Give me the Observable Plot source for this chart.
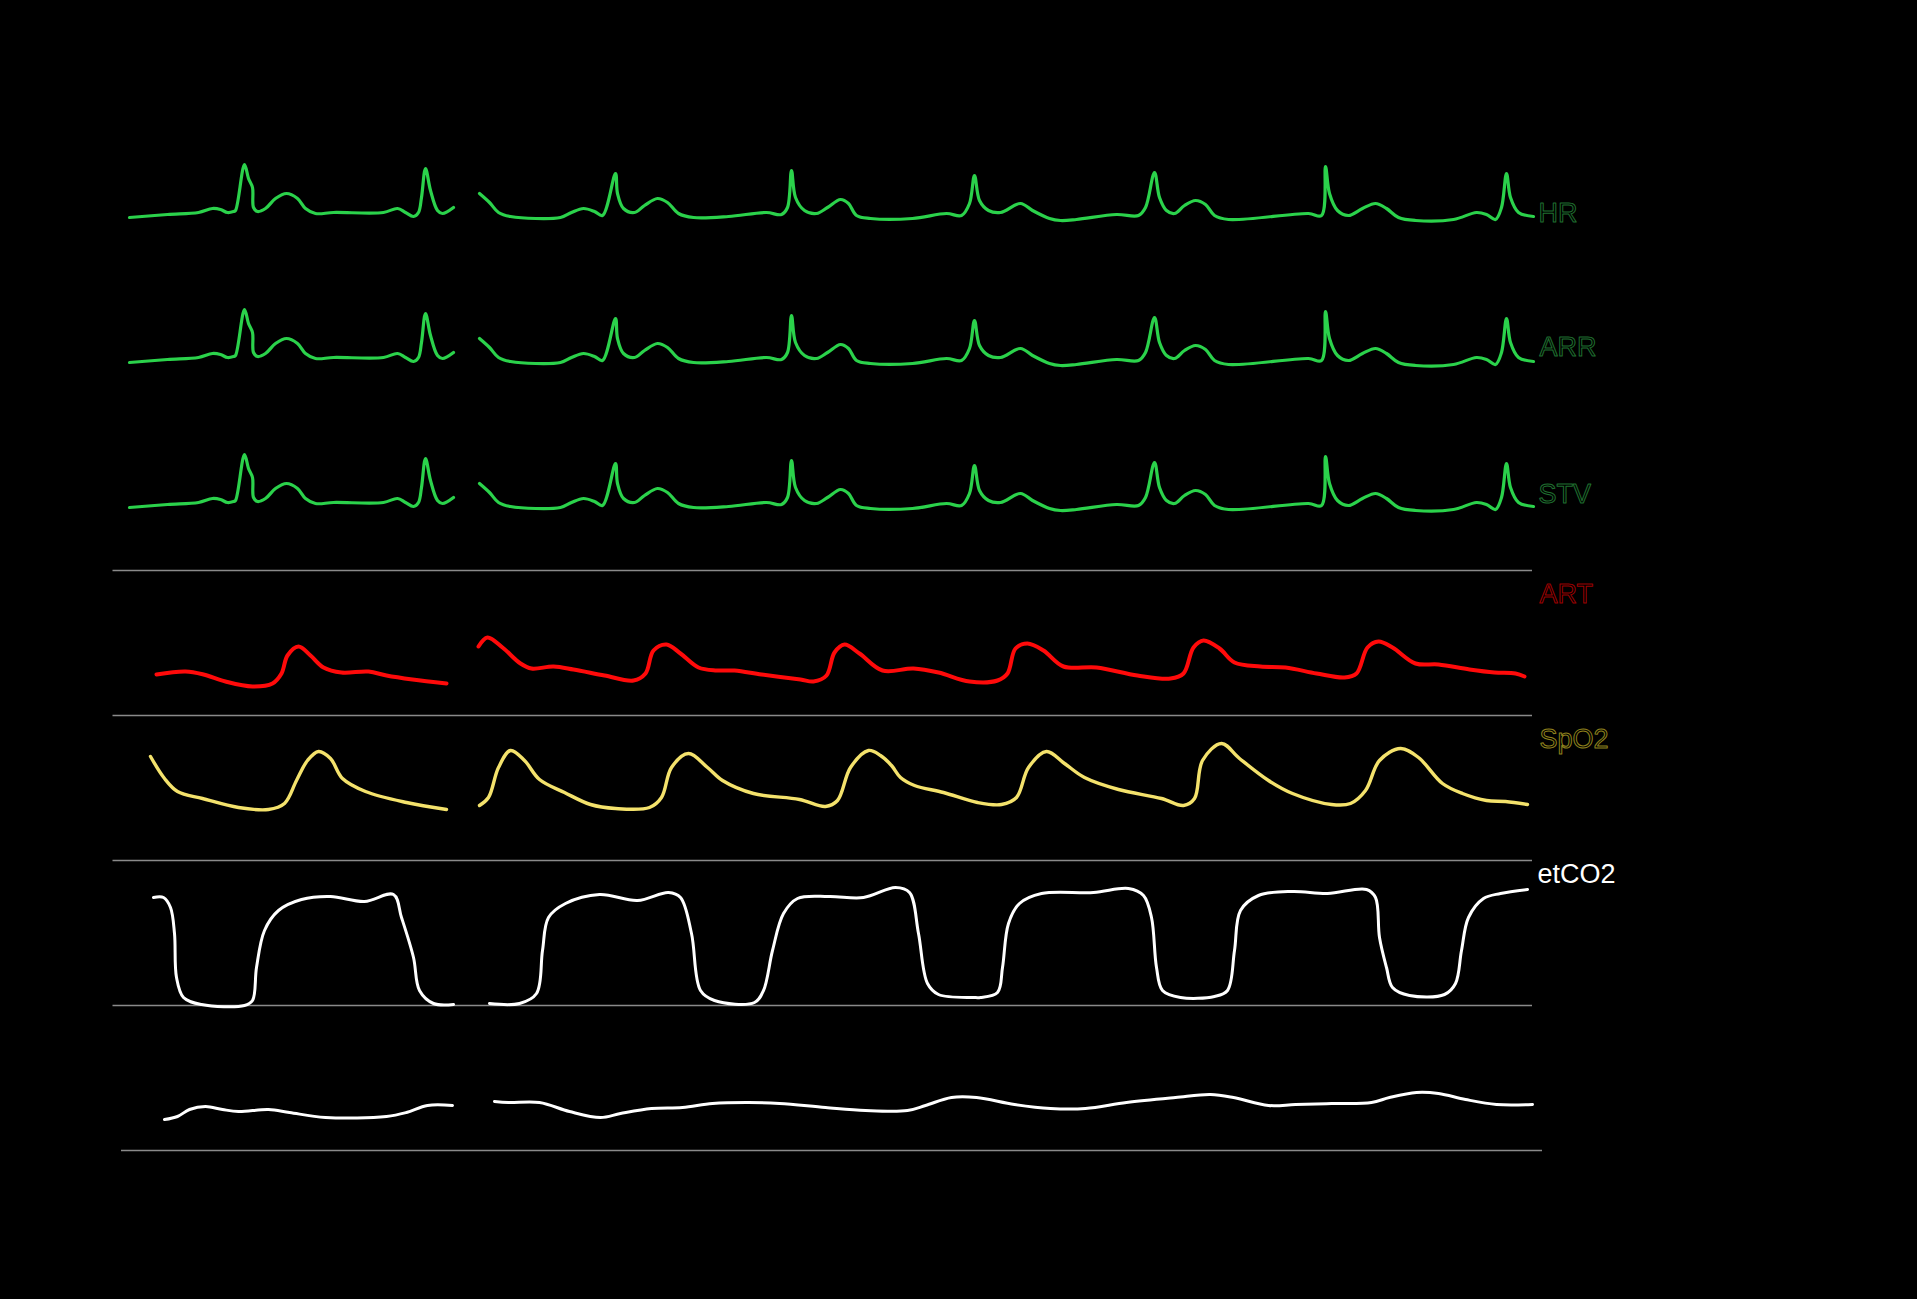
<!DOCTYPE html>
<html><head><meta charset="utf-8">
<script src="https://cdn.jsdelivr.net/npm/d3@7"></script>
<script src="https://cdn.jsdelivr.net/npm/@observablehq/plot@0.6"></script>
<style>html,body{margin:0;padding:0;background:#000;overflow:hidden} #chart svg{display:block}</style>
</head><body><div id="chart"></div>
<script>
// Channel rows, top to bottom
const channels = ["HR", "ARR", "STV", "ART", "SpO2", "etCO2", "Resp"];
const labelled = ["HR", "ARR", "STV", "ART", "SpO2", "etCO2"];

// ECG trace (same beat pattern on the three ECG leads) : [time, amplitude]
const ecgSeg1 = [[29,63],[67,66],[98,68],[112,72],[120,71],[127,68],[133,69],[135,70],[144,116],[148,102],[152,93],[153,73],[157,69],[165,72],[175,82],[186,87],[197,82],[205,72],[215,67],[233,68],[283,68],[297,72],[305,68],[313,64],[318,68],[321,83],[325,112],[330,90],[337,70],[342,67],[353,73]];
const ecgSeg2 = [[379,87],[389,78],[398,68],[410,64],[460,63],[471,68],[483,72],[494,69],[502,65],[515,107],[517,87],[523,72],[534,68],[544,75],[557,82],[567,78],[578,67],[593,63],[628,64],[666,68],[681,66],[687,73],[691,110],[695,83],[704,70],[716,67],[727,73],[740,81],[748,77],[756,65],[770,62],[812,62],[846,67],[861,65],[869,77],[874,105],[879,80],[888,70],[900,68],[920,77],[932,70],[949,62],[960,60],[976,61],[1016,66],[1038,65],[1045,73],[1054,108],[1059,83],[1066,70],[1074,67],[1084,75],[1095,80],[1105,76],[1114,65],[1128,61],[1208,67],[1221,65],[1225,114],[1229,87],[1237,70],[1248,65],[1262,72],[1275,77],[1286,72],[1298,63],[1315,60],[1353,61],[1376,68],[1386,66],[1395,61],[1401,73],[1406,107],[1410,83],[1418,68],[1433,64]];

// Arterial pressure
const artSeg1 = [[56,41],[85,44],[103,41],[125,34],[152,29],[172,32],[181,42],[187,60],[198,69],[210,60],[223,48],[241,43],[268,44],[286,40],[312,36],[346,32]];
const artSeg2 = [[378,69],[387,78],[402,68],[420,52],[431,47],[453,49],[473,46],[504,40],[533,35],[545,42],[553,65],[566,71],[580,62],[598,48],[616,45],[634,45],[661,41],[700,36],[713,34],[726,40],[734,63],[744,71],[759,62],[782,45],[813,47],[838,43],[869,34],[897,35],[907,42],[915,67],[927,72],[943,65],[963,49],[996,48],[1037,40],[1070,37],[1083,42],[1093,68],[1103,75],[1119,67],[1134,53],[1160,49],[1185,48],[1216,42],[1244,38],[1256,42],[1267,68],[1278,74],[1292,68],[1315,52],[1338,51],[1369,46],[1394,43],[1415,42],[1424,39]];

// Pulse oximetry pleth
const spo2Seg1 = [[50,104],[64,82],[77,69],[102,62],[138,53],[168,51],[184,57],[196,80],[207,100],[218,109],[230,102],[242,82],[265,69],[306,58],[346,51]];
const spo2Seg2 = [[379,55],[388,63],[398,93],[410,110],[424,100],[439,81],[464,68],[490,56],[515,52],[549,53],[561,63],[571,93],[588,107],[607,93],[622,80],[653,67],[699,61],[725,54],[737,60],[750,93],[768,110],[780,105],[791,95],[800,83],[814,75],[843,68],[877,58],[901,56],[916,63],[928,93],[946,109],[964,97],[984,83],[1018,71],[1061,62],[1083,55],[1094,62],[1102,100],[1121,117],[1139,102],[1168,80],[1192,67],[1231,56],[1250,57],[1265,70],[1279,100],[1300,112],[1318,103],[1342,77],[1362,67],[1386,60],[1405,59],[1427,56]];

// Capnography
const co2Seg1 = [[53,108],[63,108],[70,98],[74,72],[76,28],[83,8],[101,1],[144,0],[152,5],[156,38],[164,75],[178,95],[201,106],[230,109],[264,104],[293,111],[301,88],[313,48],[319,15],[333,2],[353,1]];
const co2Seg2 = [[389,2],[419,2],[436,12],[442,55],[448,88],[465,102],[499,111],[537,105],[568,113],[580,108],[591,72],[600,15],[614,5],[654,3],[663,15],[672,55],[683,92],[697,107],[729,109],[763,108],[795,118],[809,113],[818,72],[827,22],[838,11],[873,8],[880,8],[897,13],[902,38],[908,82],[919,102],[941,112],[993,113],[1028,117],[1043,110],[1051,88],[1056,38],[1062,15],[1080,8],[1114,9],[1127,15],[1134,55],[1140,95],[1158,110],[1192,114],[1227,112],[1266,116],[1275,108],[1279,68],[1286,38],[1292,18],[1309,10],[1344,11],[1355,22],[1361,55],[1368,88],[1383,107],[1400,112],[1427,116]];

// Respiration
const respSeg1 = [[64,31],[77,34],[89,41],[105,44],[122,41],[138,39],[168,41],[189,38],[225,33],[286,34],[306,38],[327,45],[352,45]];
const respSeg2 = [[394,49],[408,48],[439,48],[469,39],[500,33],[520,37],[551,42],[582,43],[612,47],[648,48],[679,47],[725,43],[765,40],[807,40],[825,45],[851,53],[876,53],[914,46],[950,42],[985,42],[1026,48],[1075,53],[1110,56],[1133,53],[1168,45],[1195,46],[1231,47],[1271,48],[1289,53],[1316,58],[1338,57],[1365,51],[1396,46],[1432,46]];

const segments = {
  HR: [ecgSeg1, ecgSeg2],
  ARR: [ecgSeg1, ecgSeg2],
  STV: [ecgSeg1, ecgSeg2],
  ART: [artSeg1, artSeg2],
  SpO2: [spo2Seg1, spo2Seg2],
  etCO2: [co2Seg1, co2Seg2],
  Resp: [respSeg1, respSeg2]
};

// build long table
const rows = [];
for (const ch of channels) {
  segments[ch].forEach((seg, i) => {
    for (const [t, v] of seg) rows.push({channel: ch, seg: ch + i, t, v});
  });
}

const style = {
  HR:    {color: "#2bd24b", width: 3.2, label: {fill: "none", stroke: "#1f6e2f"}},
  ARR:   {color: "#2bd24b", width: 3.2, label: {fill: "none", stroke: "#1f6e2f"}},
  STV:   {color: "#2bd24b", width: 3.2, label: {fill: "none", stroke: "#1f6e2f"}},
  ART:   {color: "#ff0a0a", width: 4,   label: {fill: "none", stroke: "#9a0000"}},
  SpO2:  {color: "#f4e26c", width: 3.4, label: {fill: "none", stroke: "#8f821d"}},
  etCO2: {color: "#ffffff", width: 3,   label: {fill: "#ffffff", stroke: "none"}},
  Resp:  {color: "#ffffff", width: 3,   label: null}
};

// label placement (time, amplitude) inside each row
const labelPos = {HR: [1438, 67], ARR: [1439, 78], STV: [1438, 76], ART: [1439, 121], SpO2: [1439, 121], etCO2: [1437, 131]};

const marks = [];
// separator rules
marks.push(Plot.ruleY(["STV", "ART", "SpO2", "etCO2"], {fy: d => d, y: () => 0, x1: 12.5, x2: 1432, stroke: "#8a8a8a", strokeWidth: 1.5}));
marks.push(Plot.ruleY(["Resp"], {fy: d => d, y: () => 0, x1: 21, x2: 1442, stroke: "#8a8a8a", strokeWidth: 1.5}));

for (const ch of channels) {
  const s = style[ch];
  marks.push(Plot.line(rows.filter(d => d.channel === ch), {
    x: "t", y: "v", z: "seg", fy: "channel",
    stroke: s.color, strokeWidth: s.width, curve: "catmull-rom",
    strokeLinecap: "round", strokeLinejoin: "round"
  }));
}
for (const ch of labelled) {
  const s = style[ch];
  marks.push(Plot.text([ch], {
    fy: d => d, x: () => labelPos[ch][0], y: () => labelPos[ch][1], text: d => d,
    textAnchor: "start", lineAnchor: "middle",
    fontSize: 27, fontFamily: "Liberation Sans, Arial, sans-serif",
    fill: s.label.fill, stroke: s.label.stroke, strokeWidth: 1
  }));
}

const chart = Plot.plot({
  width: 1917, height: 1299,
  marginTop: 135, marginBottom: 149, marginLeft: 100, marginRight: 317,
  x: {domain: [0, 1500], axis: null},
  y: {domain: [0, 145], axis: null},
  fy: {domain: channels, axis: null, padding: 0},
  style: {background: "#000", color: "#fff", fontFamily: "Liberation Sans, Arial, sans-serif"},
  marks
});
document.getElementById("chart").append(chart);
</script>
</body></html>
